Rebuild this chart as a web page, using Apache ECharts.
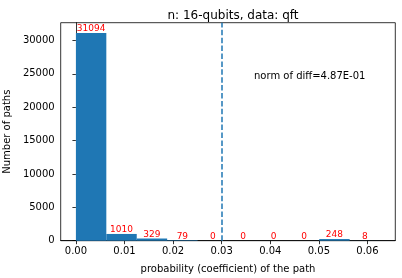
<!DOCTYPE html>
<html><head><meta charset="utf-8">
<script src="https://cdn.jsdelivr.net/npm/echarts@6/dist/echarts.min.js"></script>
<style>html,body{margin:0;padding:0;background:#fff}#c{width:402px;height:278px}</style>
</head><body><div id="c"></div>
<script>
const binEdges = [0, 0.00626, 0.01252, 0.01878, 0.02504, 0.0313, 0.03756, 0.04382, 0.05008, 0.05634, 0.0626];
const counts = [31094, 1010, 329, 79, 0, 0, 0, 0, 248, 8];
const xTicks = [0, 0.01, 0.02, 0.03, 0.04, 0.05, 0.06];
const yTicks = [0, 5000, 10000, 15000, 20000, 25000, 30000];
const threshold = 0.03;
const titleText = 'n: 16-qubits, data: qft';
const noteText = 'norm of diff=4.87E-01';

const FONT = 'DejaVu Sans';
const data = counts.map((c, i) => [binEdges[i], binEdges[i + 1], c]);
const chart = echarts.init(document.getElementById('c'), null, {renderer: 'canvas'});
chart.setOption({
  animation: false,
  title: {text: titleText, left: 228, top: 5, textAlign: 'center',
    textStyle: {fontFamily: FONT, fontSize: 12, fontWeight: 'normal', color: '#000'}},
  grid: {left: 60.7, right: 6.7, top: 22.7, bottom: 37.3, containLabel: false, outerBoundsMode: 'none',
    show: true, borderColor: '#000', borderWidth: 0.8, backgroundColor: 'transparent'},
  xAxis: {type: 'value', min: -0.00313, max: 0.06573,
    name: 'probability (coefficient) of the path', nameLocation: 'middle', nameGap: 24,
    nameTextStyle: {fontFamily: FONT, fontSize: 10, color: '#000'},
    axisLine: {show: true, lineStyle: {color: '#000', width: 0.8}},
    axisTick: {show: true, length: 3.5, lineStyle: {color: '#000', width: 0.8}, customValues: xTicks},
    axisLabel: {fontFamily: FONT, fontSize: 10, color: '#000', margin: 6, customValues: xTicks,
      formatter: v => v.toFixed(2)},
    splitLine: {show: false}},
  yAxis: {type: 'value', min: 0, max: 32649,
    name: 'Number of paths', nameLocation: 'middle', nameGap: 43, nameRotate: 90,
    nameTextStyle: {fontFamily: FONT, fontSize: 10, color: '#000'},
    axisLine: {show: true, lineStyle: {color: '#000', width: 0.8}},
    axisTick: {show: true, length: 3.5, lineStyle: {color: '#000', width: 0.8}, customValues: yTicks},
    axisLabel: {fontFamily: FONT, fontSize: 10, color: '#000', margin: 6, customValues: yTicks,
      formatter: v => String(v)},
    splitLine: {show: false}},
  series: [{
    type: 'custom',
    data: data,
    renderItem: function (params, api) {
      const x0 = api.value(0), x1 = api.value(1), c = api.value(2);
      const p0 = api.coord([x0, c]);
      const p1 = api.coord([x1, 0]);
      const pc = api.coord([(x0 + x1) / 2, c]);
      return {type: 'group', children: [
        {type: 'rect', shape: {x: p0[0], y: p0[1], width: p1[0] - p0[0], height: p1[1] - p0[1]},
          style: {fill: '#1f77b4'}},
        {type: 'text', style: {text: String(c), x: pc[0], y: pc[1] + 0.5, align: 'center', verticalAlign: 'bottom',
          fill: '#ff0000', font: '9px "DejaVu Sans"'}}
      ]};
    },
    markLine: {silent: true, symbol: ['none', 'none'], label: {show: false},
      lineStyle: {color: '#1f77b4', type: [5.5, 2.4], width: 1.5},
      data: [{xAxis: threshold}]}
  }],
  graphic: [{type: 'text', left: 254, top: 71, style: {text: noteText, font: '10px "DejaVu Sans"', fill: '#000'}}]
});
</script></body></html>
